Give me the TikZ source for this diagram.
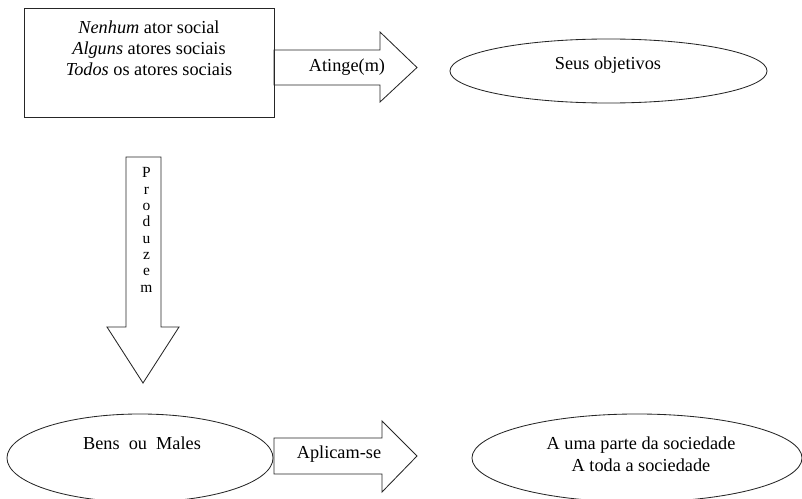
\documentclass[tikz,border=0pt]{standalone}
\usepackage{fontspec}
\setmainfont{Liberation Serif}
\usetikzlibrary{shapes.geometric, positioning}

\begin{document}
\begin{tikzpicture}[x=0.025cm, y=-0.025cm, font=\fontsize{13}{15}\selectfont,
   oval/.style={ellipse, draw=black!85, line width=0.6pt, inner sep=0pt},
   seta/.style={draw=black!85, line width=0.6pt, line join=miter}]
   \useasboundingbox (0,0) rectangle (802,499);
   % caixa dos atores
   \node[draw=black!85, line width=0.6pt, minimum width=6.25cm, minimum height=2.725cm] (atores) at (149.5,62.5) {};
   \node[align=center] (atorestxt) at (149,48.5) {\textit{Nenhum} ator social\\ \textit{Alguns} atores sociais\\ \textit{Todos} os atores sociais};
   % elipses
   \node[oval, minimum width=7.925cm, minimum height=1.6cm] (objetivos) at (608.5,71) {};
   \node (objetivostxt) at (608,65) {Seus objetivos};
   \node[oval, minimum width=6.65cm, minimum height=2.2cm] (bens) at (140,458) {};
   \node (benstxt) at (142,443) {Bens\ \ ou\ \ Males};
   \node[oval, minimum width=8.25cm, minimum height=2.2cm] (sociedade) at (637,458) {};
   \node[align=center, font=\fontsize{13}{15.6}\selectfont] (sociedadetxt) at (641,454) {A uma parte da sociedade\\ A toda a sociedade};
   % setas
   \draw[seta] (274,50) -- (380,50) -- (380,32) -- (417,67.5) -- (380,102) -- (380,85) -- (274,85) -- cycle;
   \node (atinge) at (347,67) {Atinge(m)};
   \draw[seta] (126,157) -- (161,157) -- (161,327) -- (179,327) -- (143,383) -- (107,327) -- (126,327) -- cycle;
   \node[align=center, font=\fontsize{11}{11.6}\selectfont] (produzem) at (146.5,230) {P\\ r\\ o\\ d\\ u\\ z\\ e\\ m};
   \draw[seta] (274,438) -- (382,438) -- (382,421) -- (417,456) -- (382,492) -- (382,474) -- (274,474) -- cycle;
   \node (aplicam) at (339,454) {Aplicam-se};
\end{tikzpicture}
\end{document}
